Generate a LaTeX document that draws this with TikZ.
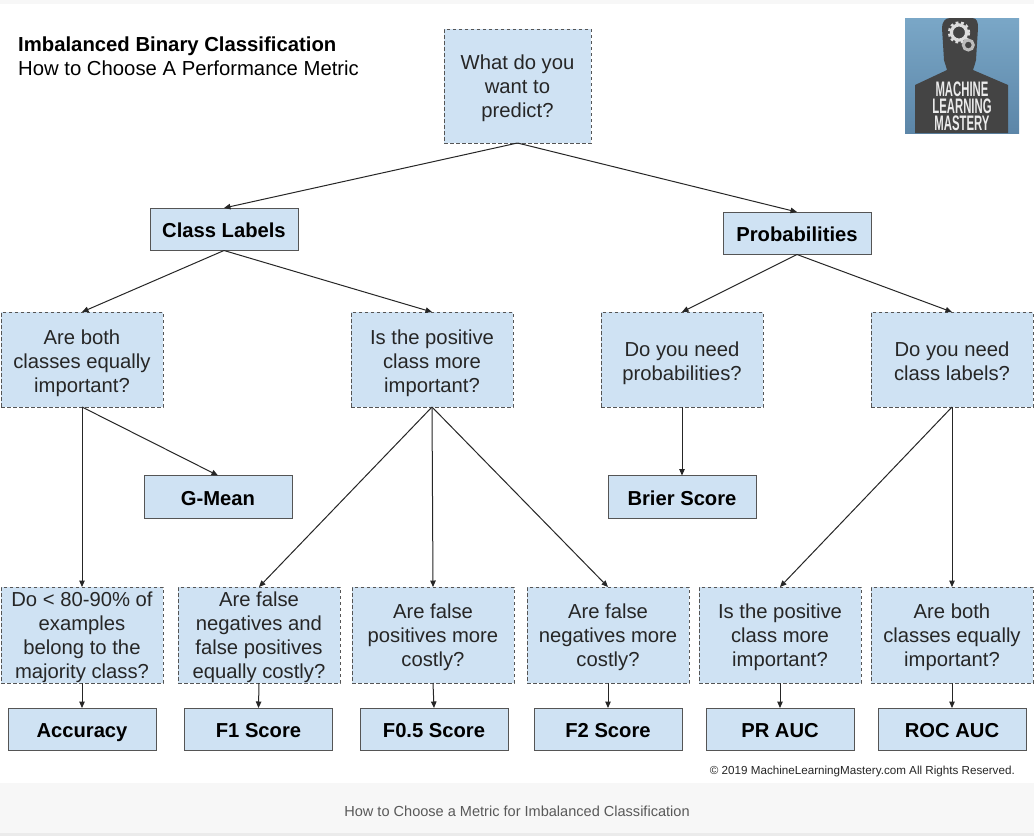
\documentclass[tikz,border=0pt]{standalone}
\usepackage{fontspec}
\setmainfont{Liberation Sans}
\usetikzlibrary{arrows.meta}
\definecolor{boxfill}{HTML}{CFE2F3}
\definecolor{boxline}{HTML}{555555}
\definecolor{bandfill}{HTML}{F7F7F7}
\definecolor{sil}{HTML}{444444}
\definecolor{logotop}{HTML}{7AA7C7}
\definecolor{logobot}{HTML}{5C86A8}
\definecolor{gearcol}{HTML}{DDDDDD}
\tikzset{
  x=1pt,y=-1pt,
  boxbase/.style={fill=boxfill,draw=boxline,line width=1pt,inner sep=0pt,outer sep=0pt,align=center,anchor=north west,font=\fontsize{20.25}{24}\selectfont,text=black!85},
  qbox/.style={boxbase,dashed,dash pattern=on 3.5pt off 2.5pt,text depth=0pt},
  qs/.style={qbox,minimum width=162pt,minimum height=95pt},
  metric/.style={boxbase,minimum width=148pt,minimum height=42.5pt,font=\fontsize{20.2}{24}\selectfont\bfseries,text=black,text height=16.5pt,text depth=0pt},
  headbox/.style={metric,text height=15.5pt},
  link/.style={draw=black!85,line width=1pt,-{Triangle[length=6.5pt,width=5.5pt]},shorten >=0pt},
  logotext/.style={font=\fontsize{21}{17}\selectfont\bfseries,text=white!92!black,inner sep=0pt,outer sep=0pt,xscale=0.54,text height=15pt,text depth=0pt},
}
\begin{document}
\begin{tikzpicture}
\useasboundingbox (0,0) rectangle (1034,836);
\fill[white] (0,0) rectangle (1034,836);
\fill[bandfill] (0,0) rectangle (1034,4);
\fill[bandfill] (0,783) rectangle (1034,833);
\fill[black!8] (0,833) rectangle (1034,836);

% logo
\shade[top color=logotop,bottom color=logobot] (905,18) rectangle (1019,133);
\fill[sil] (915,133) -- (915,85) -- (947,70) .. controls (946,66) and (945,64) .. (944,60) -- (942,28) .. controls (942,22) and (945,18) .. (950,18) -- (972,18) .. controls (977,18) and (978,22) .. (978,28) -- (976,60) .. controls (975,64) and (974,67) .. (973,70) -- (1008,85) -- (1008,133) -- cycle;
\draw[gearcol,line width=3.2pt] (959,32.5) circle (7.6pt);
\draw[gearcol,line width=2.4pt,dash pattern=on 2.8pt off 2.6pt] (959,32.5) circle (10pt);
\draw[gearcol!85!black,line width=3pt] (968.3,45) circle (5pt);
\node[logotext] (logoa) at (962,89) {MACHINE};
\node[logotext] (logob) at (962,106) {LEARNING};
\node[logotext] (logoc) at (962,123) {MASTERY};

% titles
\node[anchor=base west,inner sep=0pt,font=\fontsize{20.3}{22}\selectfont\bfseries] (title) at (18,51) {Imbalanced Binary Classification};
\node[anchor=base west,inner sep=0pt,font=\fontsize{20.3}{22}\selectfont] (subtitle) at (18,75) {How to Choose A Performance Metric};

% question
\node[qbox,minimum width=147pt,minimum height=114pt] (q) at (444,29) {What do you\\want to\\predict?};
\node[headbox] (cl) at (150,208) {Class Labels};
\node[headbox] (pr) at (723,212) {Probabilities};

\node[qs] (both) at (1,312) {\mbox{}\\[-5.5pt]Are both\\classes equally\\important?};
\node[qs] (pos) at (351,312) {\mbox{}\\[-5.5pt]Is the positive\\class more\\important?};
\node[qs] (np) at (601,312) {\mbox{}\\[-5.5pt]Do you need\\probabilities?};
\node[qs] (nl) at (871,312) {\mbox{}\\[-5.5pt]Do you need\\class labels?};

\node[metric] (gm) at (144,475.5) {G-Mean};
\node[metric] (br) at (608,475.5) {Brier Score};

\node[qs,minimum height=96pt] (r1) at (1,587) {Do < 80-90\% of\\examples\\belong to the\\majority class?};
\node[qs,minimum height=96pt] (r2) at (178,587) {Are false\\negatives and\\false positives\\equally costly?};
\node[qs,minimum height=96pt] (r3) at (352,587) {Are false\\positives more\\costly?};
\node[qs,minimum height=96pt] (r4) at (527,587) {Are false\\negatives more\\costly?};
\node[qs,minimum height=96pt] (r5) at (699,587) {Is the positive\\class more\\important?};
\node[qs,minimum height=96pt] (r6) at (871,587) {Are both\\classes equally\\important?};

\node[metric] (m1) at (8,708) {Accuracy};
\node[metric] (m2) at (184.5,708) {F1 Score};
\node[metric] (m3) at (360,708) {F0.5 Score};
\node[metric] (m4) at (534,708) {F2 Score};
\node[metric] (m5) at (706,708) {PR AUC};
\node[metric] (m6) at (878,708) {ROC AUC};

% connectors
\draw[link] (q.south) -- (cl.north);
\draw[link] (q.south) -- (pr.north);
\draw[link] (cl.south) -- (both.north);
\draw[link] (cl.south) -- (pos.north);
\draw[link] (pr.south) -- (np.north);
\draw[link] (pr.south) -- (nl.north);
\draw[link] (both.south) -- (r1.north);
\draw[link] (both.south) -- (gm.north);
\draw[link] (pos.south) -- (r2.north);
\draw[link] (pos.south) -- (r3.north);
\draw[link] (pos.south) -- (r4.north);
\draw[link] (np.south) -- (br.north);
\draw[link] (nl.south) -- (r5.north);
\draw[link] (nl.south) -- (r6.north);
\draw[link] (r1.south) -- (m1.north);
\draw[link] (r2.south) -- (m2.north);
\draw[link] (r3.south) -- (m3.north);
\draw[link] (r4.south) -- (m4.north);
\draw[link] (r5.south) -- (m5.north);
\draw[link] (r6.south) -- (m6.north);

\node[anchor=base east,inner sep=0pt,font=\fontsize{11.65}{13}\selectfont,text=black!85] (copy) at (1015,774.5) {© 2019 MachineLearningMastery.com All Rights Reserved.};
\node[anchor=base,inner sep=0pt,font=\fontsize{14.55}{17}\selectfont,text=black!65] (cap) at (517,816) {How to Choose a Metric for Imbalanced Classification};
\end{tikzpicture}
\end{document}
